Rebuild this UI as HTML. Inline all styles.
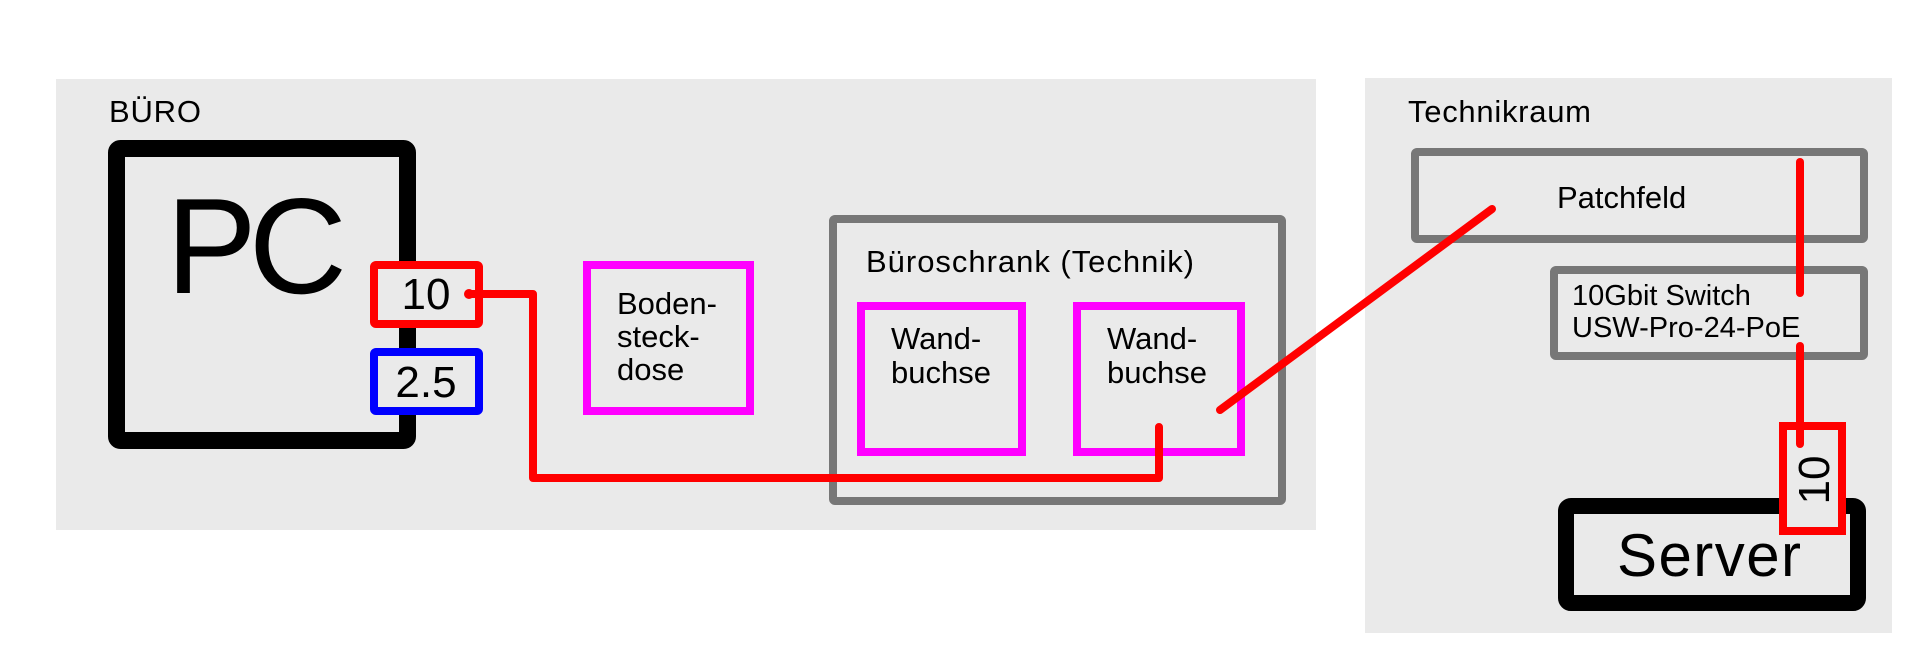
<!DOCTYPE html>
<html><head><meta charset="utf-8"><style>
html,body{margin:0;padding:0;background:#fff;}
svg{display:block;}
text{font-family:"Liberation Sans",Arial,sans-serif;fill:#000;}
</style></head><body>
<svg width="1920" height="669" viewBox="0 0 1920 669" xmlns="http://www.w3.org/2000/svg">
<rect x="0" y="0" width="1920" height="669" fill="#fff"/>
<rect x="56" y="79" width="1260" height="451" fill="#eaeaea"/>
<rect x="1365" y="78" width="527" height="555" fill="#eaeaea"/>
<text x="109" y="122" font-size="31" textLength="92">BÜRO</text>
<text x="1408" y="122" font-size="31" textLength="183">Technikraum</text>

<!-- PC -->
<rect x="116.5" y="148.5" width="291" height="292" rx="4" fill="none" stroke="#000" stroke-width="17"/>
<text x="166" y="293" font-size="136" textLength="181">PC</text>

<!-- port boxes -->
<rect x="374" y="265" width="105" height="59" rx="2" fill="#eaeaea" stroke="#f00" stroke-width="8"/>
<text x="426" y="309" font-size="44" text-anchor="middle">10</text>
<rect x="374" y="352" width="105" height="59" rx="2" fill="#eaeaea" stroke="#00f" stroke-width="8"/>
<text x="426" y="397" font-size="44" text-anchor="middle">2.5</text>

<!-- Bodensteckdose -->
<rect x="587" y="265" width="163" height="146" fill="none" stroke="#f0f" stroke-width="8"/>
<text font-size="31"><tspan x="617" y="314">Boden-</tspan><tspan x="617" y="347">steck-</tspan><tspan x="617" y="380">dose</tspan></text>

<!-- Büroschrank -->
<rect x="833" y="219" width="449" height="282" rx="2" fill="none" stroke="#777" stroke-width="8"/>
<text x="866" y="272" font-size="31" textLength="328">Büroschrank (Technik)</text>
<rect x="861" y="306" width="161" height="146" fill="none" stroke="#f0f" stroke-width="8"/>
<text font-size="31"><tspan x="891" y="349">Wand-</tspan><tspan x="891" y="383">buchse</tspan></text>
<rect x="1077" y="306" width="164" height="146" fill="none" stroke="#f0f" stroke-width="8"/>
<text font-size="31"><tspan x="1107" y="349">Wand-</tspan><tspan x="1107" y="383">buchse</tspan></text>

<!-- Patchfeld -->
<rect x="1415" y="152" width="449" height="87" rx="2" fill="none" stroke="#777" stroke-width="8"/>
<text x="1557" y="208" font-size="31">Patchfeld</text>
<!-- Switch -->
<rect x="1554" y="270" width="310" height="86" rx="2" fill="none" stroke="#777" stroke-width="8"/>
<text font-size="29"><tspan x="1572" y="305">10Gbit Switch</tspan><tspan x="1572" y="337">USW-Pro-24-PoE</tspan></text>

<!-- Server -->
<rect x="1566" y="506" width="292" height="97" rx="5" fill="none" stroke="#000" stroke-width="16"/>
<text x="1617" y="576" font-size="60" textLength="184">Server</text>

<!-- red lines -->
<g stroke="#f00" stroke-width="8" fill="none" stroke-linecap="round" stroke-linejoin="round">
<polyline points="469,294 533,294 533,478 1159,478 1159,427"/>
<line x1="1220" y1="410" x2="1492" y2="209"/>
<line x1="1800" y1="162" x2="1800" y2="293"/>
</g>

<!-- server port -->
<rect x="1783" y="426" width="59" height="105" fill="#eaeaea" stroke="#f00" stroke-width="8"/>
<line x1="1800" y1="346" x2="1800" y2="444" stroke="#f00" stroke-width="8" stroke-linecap="round"/>
<text x="0" y="0" font-size="44" text-anchor="middle" transform="translate(1829,480) rotate(-90)">10</text>
<circle cx="469" cy="294" r="5" fill="#f00"/>
</svg>
</body></html>
